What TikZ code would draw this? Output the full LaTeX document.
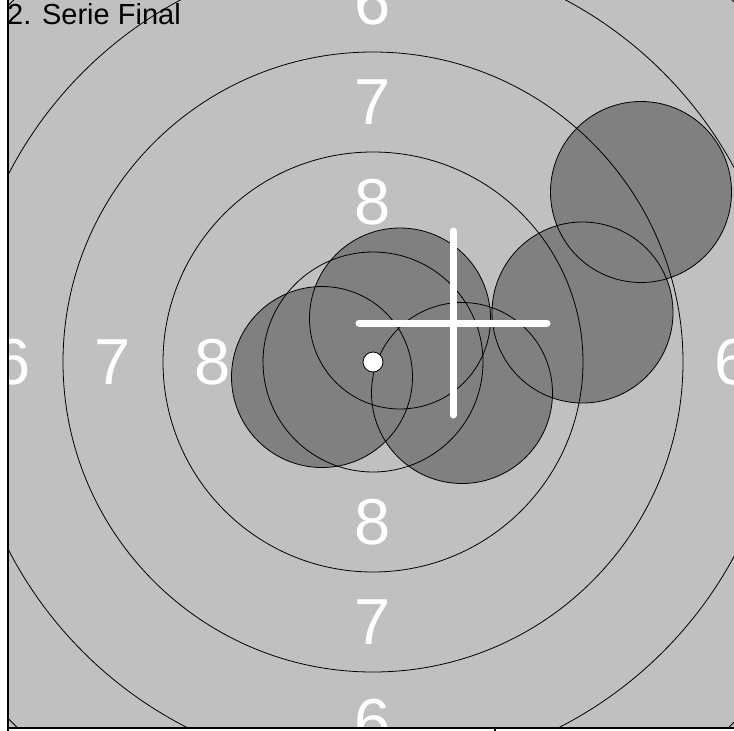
\documentclass[tikz,border=0pt]{standalone}
\usepackage{fontspec}
\setmainfont{Liberation Sans}
\definecolor{target}{RGB}{192,192,192}
\definecolor{shot}{RGB}{128,128,128}
\tikzset{
  ringline/.style={draw=black, line width=0.8pt},
  shotfill/.style={fill=shot},
  shotline/.style={draw=black, line width=0.8pt},
  ringlabel/.style={text=white, inner sep=0pt, font=\fontsize{65}{65}\selectfont},
  crossbar/.style={draw=white, line width=7pt, line cap=round},
  axisline/.style={draw=black, line width=1.4pt}
}
\begin{document}
\begin{tikzpicture}[x=1pt,y=-1pt]
\useasboundingbox (0,0) rectangle (734,731);
\fill[white] (0,0) rectangle (734,731);
\fill[target] (8,0) rectangle (734,728);
\coordinate (c) at (373,362);
\begin{scope}
  \clip (8,0) rectangle (734,728);
  % ring labels
  \node[ringlabel] (t6) at (373,2) {6};
  \node[ringlabel] (t7) at (373,102) {7};
  \node[ringlabel] (t8) at (373,202) {8};
  \node[ringlabel] (b8) at (373,522) {8};
  \node[ringlabel] (b7) at (373,622) {7};
  \node[ringlabel] (b6) at (373,722) {6};
  \node[ringlabel] (l6) at (13,362) {6};
  \node[ringlabel] (l7) at (113,362) {7};
  \node[ringlabel] (l8) at (213,362) {8};
  \node[ringlabel] (r6) at (733,362) {6};
  % shot fills
  \foreach \p in {(322,377),(400,318.5),(462,393),(582.5,312.5),(641,192)}
    \fill[shotfill] \p circle[radius=90.5pt];
  % rings
  \foreach \r in {110,210,310,410,510}
    \draw[ringline] (c) circle[radius=\r pt];
  % shot outlines
  \foreach \p in {(322,377),(400,318.5),(462,393),(582.5,312.5),(641,192)}
    \draw[shotline] \p circle[radius=90.5pt];
\end{scope}
% cross
\coordinate (cv1) at (453,231);
\coordinate (cv2) at (453,415);
\coordinate (ch1) at (359,323);
\coordinate (ch2) at (547,323);
\draw[crossbar] (cv1) -- (cv2);
\draw[crossbar] (ch1) -- (ch2);
% centre dot
\filldraw[fill=white, draw=black, line width=0.8pt] (c) circle[radius=10pt];
% axes
\coordinate (a0) at (8,0);
\coordinate (a1) at (8,731);
\coordinate (a2) at (8,728);
\coordinate (a3) at (734,728);
\coordinate (tk1) at (495,728);
\coordinate (tk2) at (495,731);
\draw[axisline] (a0) -- (a1);
\draw[axisline] (a2) -- (a3);
\draw[axisline] (tk1) -- (tk2);
% title
\node[anchor=base west, inner sep=0pt, font=\fontsize{29}{29}\selectfont] (title) at (7,24) {2. Serie Final};
\end{tikzpicture}
\end{document}
